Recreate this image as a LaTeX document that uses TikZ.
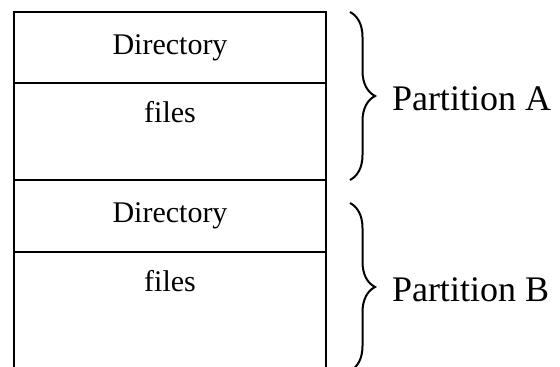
\documentclass[tikz,border=0pt]{standalone}
\usepackage{fontspec}
\setmainfont{Liberation Serif}
\usetikzlibrary{positioning}
\usetikzlibrary{decorations, decorations.pathreplacing}
\definecolor{fg}{rgb}{0,0,0}
\tikzstyle{box}=[draw, line width=1pt, outer sep=0pt, inner sep=0pt,
minimum width=156pt, anchor=center, text=fg, font=\fontsize{15}{18}\selectfont]
\tikzstyle{mybrace}=[decorate, decoration={brace, amplitude=12.5pt}, line width=1pt]
\tikzstyle{partlabel}=[inner sep=0pt, text=fg, font=\fontsize{18}{22}\selectfont]

\begin{document}
\begin{tikzpicture}
    \useasboundingbox (0,0) rectangle (280pt,-183.5pt);

    \node[box, minimum height=35.5pt, anchor=north] (DirA) at (85pt,-6pt) {Directory};
    \node[box, text height=20pt, text depth=28.5pt, below=0pt of DirA] (FilesA) {files};
    \node[box, minimum height=36pt, below=0pt of FilesA] (DirB) {Directory};
    \node[box, text height=20pt, text depth=41pt, below=0pt of DirB] (FilesB) {files};

    \coordinate (TopA) at ([xshift=12pt]DirA.north east);
    \coordinate (BotA) at ([xshift=12pt]FilesA.south east);
    \coordinate (TopB) at ([xshift=12pt, yshift=-11.5pt]DirB.north east);
    \coordinate (BotB) at ([yshift=-84pt]TopB);

    \draw[mybrace] (TopA) -- node[partlabel, right=20.5pt, yshift=-1.5pt] (PartA) {Partition A} (BotA);
    \draw[mybrace] (TopB) -- node[partlabel, right=20.5pt, yshift=-1.5pt] (PartB) {Partition B} (BotB);
\end{tikzpicture}
\end{document}
